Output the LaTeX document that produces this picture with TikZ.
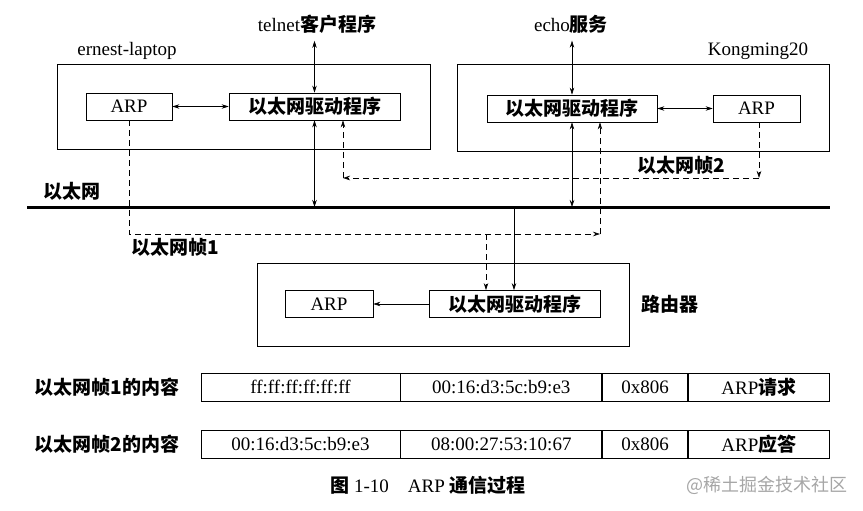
\documentclass[tikz,border=0pt]{standalone}
\usepackage{fontspec}
\setmainfont{Liberation Serif}
\newfontfamily\cjk{Noto Sans CJK SC}
\usetikzlibrary{arrows,arrows.meta,positioning,calc}
\newcommand{\zh}[1]{{\cjk\bfseries #1}}

\begin{document}
\begin{tikzpicture}[x=1pt,y=-1pt,>={Stealth[length=7pt,width=4.5pt]},semithick,
font=\fontsize{19}{22}\selectfont]

\tikzstyle{box}=[rectangle, draw, line width=0.8pt, inner sep=0pt,
minimum height=27pt]
\tikzstyle{host}=[rectangle, draw, line width=0.8pt, inner sep=0pt]
\tikzstyle{frame}=[dash pattern=on 6pt off 4pt, ->]
\tikzstyle{cell}=[rectangle, draw, line width=0.8pt, inner sep=0pt,
minimum height=28pt]

\useasboundingbox (0,0) rectangle (863,511);

%hosts
\node[host, minimum width=373pt, minimum height=85pt]
(laptop) at (243.5,106.5) {};
\node[host, minimum width=372pt, minimum height=87pt]
(kongming) at (643,107.5) {};
\node[host, minimum width=372pt, minimum height=83pt]
(router) at (443,304.5) {};

\node (laptoplabel) at (127,51) {ernest-laptop};
\node (kmlabel) at (758,51) {Kongming20};
\node (routerlabel) at (670,304) {\zh{路由器}};

%boxes inside
\node[box, minimum width=86pt] (arpl) at (129,106.5) {ARP};
\node[box, minimum width=171pt] (drvl) at (314.5,106.5) {\zh{以太网驱动程序}};
\node[box, minimum width=170pt] (drvr) at (572,108.5) {\zh{以太网驱动程序}};
\node[box, minimum width=87pt] (arpr) at (756.5,108.5) {ARP};
\node[box, minimum width=88pt] (arprt) at (329,304) {ARP};
\node[box, minimum width=171pt] (drvrt) at (514.5,304) {\zh{以太网驱动程序}};

%applications
\node (telnet) at (317,24) {telnet\zh{客户程序}};
\node (echo) at (571,24) {echo\zh{服务}};

%ethernet
\coordinate (ethl) at (27,207);
\coordinate (ethr) at (830,207);
\coordinate (ethtap) at (514,207);
\draw[line width=3pt] (ethl) -- (ethr);
\node (ethlabel) at (72,191) {\zh{以太网}};

\path[<->] (arpl) edge (drvl);
\path[<->] (drvr) edge (arpr);
\path[->] (drvrt) edge (arprt);

\draw[<->,shorten <=4pt] (drvl.north |- telnet.south) -- (drvl.north);
\draw[<->,shorten <=4pt] (drvr.north |- echo.south) -- (drvr.north);
\draw[<->] (drvl.south) -- (drvl.south |- ethl);
\draw[<->] (drvr.south) -- (drvr.south |- ethl);
\draw[->] (ethtap) -- (ethtap |- drvrt.north);

%frame 1
\coordinate (f1end) at (600,234);
\coordinate (f1tap) at (486,234);
\draw[frame] (arpl.south) |- (f1end);
\draw[frame] (f1end) -- (f1end |- drvr.south);
\draw[frame] (f1tap) -- (f1tap |- drvrt.north);
\node (f1label) at (175,247) {\zh{以太网帧1}};

%frame 2
\coordinate (f2turn) at (759,178);
\coordinate (f2end) at (343,178);
\draw[frame] (f2turn |- arpr.south) -- (f2turn);
\draw[frame] (f2turn) -- (f2end);
\draw[frame] (f2end) -- (f2end |- drvl.south);
\node (f2label) at (681,165) {\zh{以太网帧2}};

%frame contents
\node (row1) at (107,387) {\zh{以太网帧1的内容}};
\node[cell, minimum width=199pt] (r1a) at (300.5,387) {ff:ff:ff:ff:ff:ff};
\node[cell, minimum width=201pt, right=0pt of r1a] (r1b) {00:16:d3:5c:b9:e3};
\node[cell, minimum width=85pt, right=0pt of r1b] (r1c) {0x806};
\node[cell, minimum width=141pt, right=0pt of r1c] (r1d) {ARP\zh{请求}};

\node (row2) at (107,444) {\zh{以太网帧2的内容}};
\node[cell, minimum width=199pt] (r2a) at (300.5,444) {00:16:d3:5c:b9:e3};
\node[cell, minimum width=201pt, right=0pt of r2a] (r2b) {08:00:27:53:10:67};
\node[cell, minimum width=85pt, right=0pt of r2b] (r2c) {0x806};
\node[cell, minimum width=141pt, right=0pt of r2c] (r2d) {ARP\zh{应答}};

\node (caption) at (428,485) {\zh{图} 1-10\quad ARP \zh{通信过程}};
\node[text=gray!70] (mark) at (767,485)
{\fontsize{18}{20}\selectfont\cjk @稀土掘金技术社区};

\end{tikzpicture}
\end{document}
